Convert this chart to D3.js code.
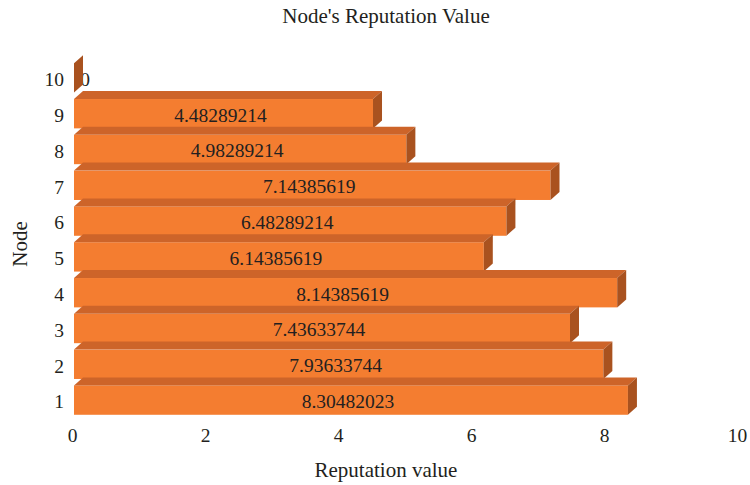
<!DOCTYPE html>
<html>
<head>
<meta charset="utf-8">
<script src="https://cdn.jsdelivr.net/npm/d3@7"></script>
<style>
  body { margin: 0; background: #fff; }
  text { font-family: "Liberation Serif", "DejaVu Serif", serif; fill: #231f20; }
</style>
</head>
<body>
<svg id="chart" width="750" height="485"></svg>
<script>
var nodes = ["1", "2", "3", "4", "5", "6", "7", "8", "9", "10"]
var reputation = [8.30482023, 7.93633744, 7.43633744, 8.14385619, 6.14385619,
                  6.48289214, 7.14385619, 4.98289214, 4.48289214, 0]
var xTicks = [0, 2, 4, 6, 8, 10]

var frontColor = "#f47d30", topColor = "#cd6429", sideColor = "#a9521f"
var depthX = 9, depthY = 8

var svg = d3.select("#chart")

var x = d3.scaleLinear().domain([0, 10]).range([74, 741])
var xAxisScale = d3.scaleLinear().domain([0, 10]).range([72, 737])
var y = d3.scaleBand().domain(nodes.slice().reverse())
    .range([59, 417]).paddingInner(0.18).paddingOuter(0.09)

var data = nodes.map(function(n, i) { return {node: n, value: reputation[i]} })

// draw from top bar to bottom so lower bars' top faces overlap
var bars = svg.append("g").selectAll("g.bar")
    .data(data.slice().reverse())
    .enter().append("g").attr("class", "bar")

bars.each(function(d) {
  var g = d3.select(this)
  var x0 = x(0), x1 = x(d.value)
  var y0 = y(d.node) + 1, y1 = y0 + y.bandwidth()
  if (d.value > 0) {
    g.append("rect").attr("x", x0).attr("y", y0)
      .attr("width", x1 - x0).attr("height", y1 - y0).attr("fill", frontColor)
    g.append("path").attr("fill", topColor)
      .attr("d", "M" + x0 + "," + y0 + "L" + (x0 + depthX) + "," + (y0 - depthY) +
        "L" + (x1 + depthX) + "," + (y0 - depthY) + "L" + x1 + "," + y0 + "Z")
  }
  g.append("text")
    .attr("x", d.value > 0 ? (x0 + x1) / 2 - 3 : x0 + 11).attr("y", (y0 + y1) / 2 + 1)
    .attr("dy", "0.35em").attr("text-anchor", "middle")
    .style("font-size", "19.5px")
    .text(d.value > 0 ? d3.format(".8f")(d.value) : "0")
  g.append("path").attr("fill", sideColor)
    .attr("d", "M" + x1 + "," + y0 + "L" + (x1 + depthX) + "," + (y0 - depthY) +
      "L" + (x1 + depthX) + "," + (y1 - depthY) + "L" + x1 + "," + y1 + "Z")
})

// y axis labels
var yAxis = svg.append("g").attr("transform", "translate(64,0)")
  .call(d3.axisLeft(y).tickSize(0).tickPadding(0))
yAxis.select(".domain").remove()
yAxis.selectAll("text").style("font-size", "19.5px").style("font-family", null)
  .attr("y", 3)

// x axis labels
var xAxis = svg.append("g").attr("transform", "translate(0,428)")
  .call(d3.axisBottom(xAxisScale).tickValues(xTicks).tickSize(0).tickPadding(0))
xAxis.select(".domain").remove()
xAxis.selectAll("text").style("font-size", "19.5px").style("font-family", null)

svg.append("text").attr("x", 386).attr("y", 23).attr("text-anchor", "middle")
  .style("font-size", "21px").text("Node's Reputation Value")

svg.append("text").attr("x", 386).attr("y", 477).attr("text-anchor", "middle")
  .style("font-size", "21px").text("Reputation value")

svg.append("text").attr("transform", "translate(27,244) rotate(-90)")
  .attr("text-anchor", "middle").style("font-size", "21px").text("Node")
</script>
</body>
</html>
